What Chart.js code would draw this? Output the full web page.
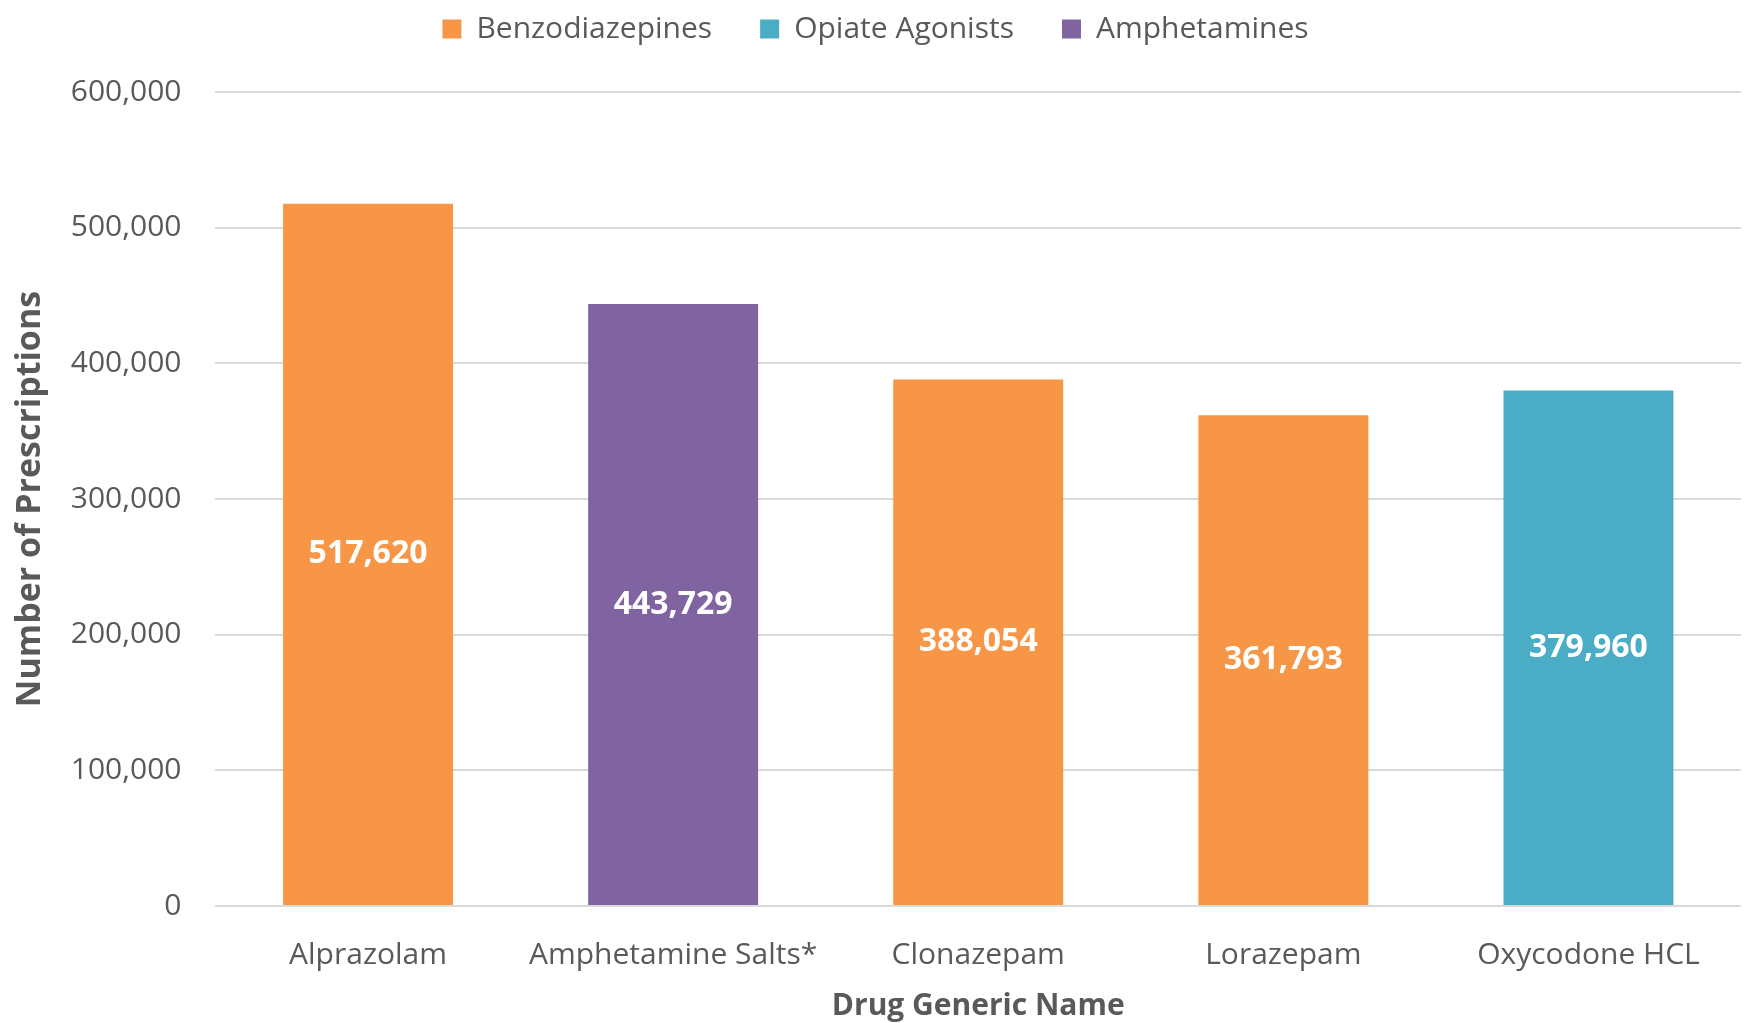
<!DOCTYPE html>
<html>
<head>
<meta charset="utf-8">
<script src="https://cdn.jsdelivr.net/npm/chart.js@4"></script>
<style>
  body { margin: 0; background: #fff; }
</style>
</head>
<body>
<canvas id="rxChart" width="1749" height="1023"></canvas>
<script>
var drugs = ["Alprazolam", "Amphetamine Salts*", "Clonazepam", "Lorazepam", "Oxycodone HCL"]
var benzodiazepines = [517620, null, 388054, 361793, null]
var opiateAgonists = [null, null, null, null, 379960]
var amphetamines = [null, 443729, null, null, null]

var textColor = "#595959"
var fontName = "'Open Sans', 'Noto Sans', sans-serif"
var legendPad = 48

// draw the value in the middle of each bar
var barLabels = {
    id: "barLabels",
    afterDatasetsDraw: function(chart) {
        var ctx = chart.ctx
        ctx.save()
        ctx.fillStyle = "#ffffff"
        ctx.font = "bold 32px " + fontName
        ctx.textAlign = "center"
        ctx.textBaseline = "middle"
        chart.data.datasets.forEach(function(ds, i) {
            var meta = chart.getDatasetMeta(i)
            meta.data.forEach(function(bar, j) {
                var v = ds.data[j]
                if (v == null) return
                var mid = (bar.y + bar.base) / 2
                ctx.fillText(v.toLocaleString("en-US"), bar.x, mid)
            })
        })
        ctx.restore()
    }
}

// legend: wide gaps between items but sitting close to the top edge,
// with the plot starting lower down
var legendPlace = {
    id: "legendPlace",
    beforeInit: function(chart) {
        var fit = chart.legend.fit
        chart.legend.fit = function() {
            fit.bind(chart.legend)()
            this.height = 92
        }
    },
    afterLayout: function(chart) {
        chart.legend.top = 29 - legendPad - 15
    }
}

var data = {
    labels: drugs,
    datasets: [{
        label: "Benzodiazepines",
        data: benzodiazepines,
        backgroundColor: "#F79646"
    }, {
        label: "Opiate Agonists",
        data: opiateAgonists,
        backgroundColor: "#4BACC6"
    }, {
        label: "Amphetamines",
        data: amphetamines,
        backgroundColor: "#8064A2"
    }]
}

var options = {
    responsive: false,
    animation: false,
    skipNull: true,
    categoryPercentage: 1,
    barPercentage: 0.557,
    layout: {
        padding: { left: 10, right: 8, top: 0, bottom: 0 }
    },
    plugins: {
        legend: {
            position: "top",
            labels: {
                color: textColor,
                font: { family: fontName, size: 30 },
                boxWidth: 19,
                boxHeight: 19,
                padding: legendPad
            }
        },
        tooltip: { enabled: false }
    },
    scales: {
        x: {
            grid: { display: false },
            border: { display: false },
            ticks: {
                color: textColor,
                font: { family: fontName, size: 30 },
                padding: 23
            },
            title: {
                display: true,
                text: "Drug Generic Name",
                color: textColor,
                font: { family: fontName, size: 30, weight: "bold" },
                padding: { top: -8, bottom: -1 }
            }
        },
        y: {
            min: 0,
            max: 600000,
            grid: {
                color: "#d9d9d9",
                lineWidth: 2,
                drawTicks: false
            },
            border: { display: false },
            ticks: {
                stepSize: 100000,
                color: textColor,
                font: { family: fontName, size: 30 },
                padding: 34,
                callback: function(v) { return v.toLocaleString("en-US") }
            },
            title: {
                display: true,
                text: "Number of Prescriptions",
                color: textColor,
                font: { family: fontName, size: 34, weight: "bold" },
                padding: { top: 0, bottom: -14 }
            }
        }
    }
}

var ctx = document.getElementById("rxChart")

var rxChart = new Chart(ctx, {
    type: "bar",
    data: data,
    options: options,
    plugins: [barLabels, legendPlace]
})
</script>
</body>
</html>
